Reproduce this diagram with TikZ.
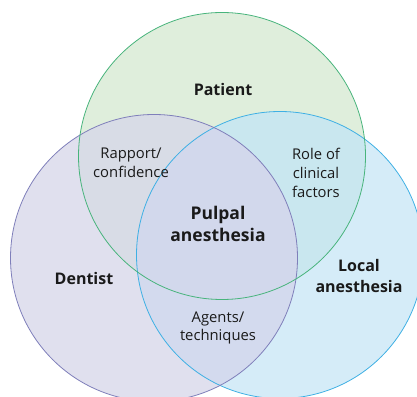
\documentclass[tikz,border=0pt]{standalone}
\usepackage{fontspec}
\setmainfont{Open Sans}
\usepackage{tikz}

\definecolor{patientfill}{HTML}{DFEEDC}
\definecolor{dentistfill}{HTML}{E0E0EE}
\definecolor{localfill}{HTML}{D5ECF8}
\definecolor{pdfill}{HTML}{D8DCE6}
\definecolor{plfill}{HTML}{C9E7EF}
\definecolor{dlfill}{HTML}{D3DAEE}
\definecolor{pdlfill}{HTML}{D2D8EC}
\definecolor{patientline}{HTML}{48B47C}
\definecolor{dentistline}{HTML}{7F7FBA}
\definecolor{localline}{HTML}{3FB0E4}
\definecolor{ink}{HTML}{1A1A1A}

\begin{document}
\begin{tikzpicture}[x=1pt, y=1pt,
  rim/.style={line width=0.8pt},
  lbl/.style={align=center, text=ink, font=\fontsize{14.8}{18.7}\selectfont},
  head/.style={align=center, text=ink, font=\bfseries\fontsize{16}{21}\selectfont}]
\clip (0,0) rectangle (417,396);
\coordinate (P) at (222,240);
\coordinate (D) at (154,138);
\coordinate (L) at (280,141);

\fill[patientfill] (P) circle (143.5);
\fill[dentistfill] (D) circle (143.5);
\fill[localfill] (L) circle (143.5);
\begin{scope}
  \clip (P) circle (143.5);
  \fill[pdfill] (D) circle (143.5);
  \fill[plfill] (L) circle (143.5);
  \clip (D) circle (143.5);
  \fill[pdlfill] (L) circle (143.5);
\end{scope}
\begin{scope}
  \clip (D) circle (143.5);
  \clip (L) circle (143.5);
  \fill[dlfill] (D) circle (143.5);
  \clip (P) circle (143.5);
  \fill[pdlfill] (P) circle (143.5);
\end{scope}

\draw[rim, localline] (L) circle (143.5);
\draw[rim, dentistline] (D) circle (143.5);
\draw[rim, patientline] (P) circle (143.5);

\node[head] (patient) at (223,306) {Patient};
\node[head] (dentist) at (84,117) {Dentist};
\node[head] (local) at (359,120) {Local\\anesthesia};
\node[head, font=\bfseries\fontsize{17.5}{22.7}\selectfont] (pulpal) at (218,172) {Pulpal\\anesthesia};
\node[lbl] (rapport) at (131,233) {Rapport/\\confidence};
\node[lbl] (role) at (316,223) {Role of\\clinical\\factors};
\node[lbl] (agents) at (218,68) {Agents/\\techniques};
\end{tikzpicture}
\end{document}
